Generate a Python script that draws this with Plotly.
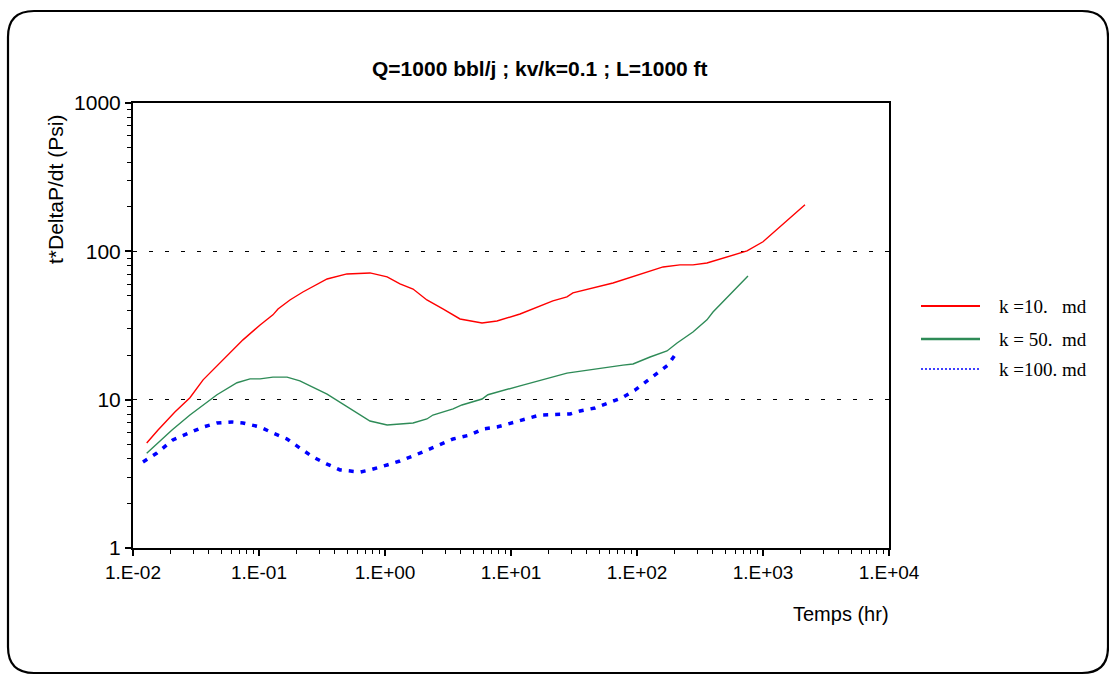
import plotly.graph_objects as go

# ---- data -------------------------------------------------------------
series_names = ["k =10.\u00a0\u00a0\u00a0md", "k = 50.\u00a0\u00a0md", "k =100. md"]

t_k10 = [0.01285, 0.0158, 0.0215, 0.0283, 0.036, 0.049, 0.0746, 0.102, 0.129, 0.1415,
         0.176, 0.223, 0.347, 0.499, 0.76, 1.04, 1.315, 1.67, 2.15, 2.88, 3.94, 5.89,
         7.74, 11.8, 21.5, 27.8, 31.0, 64.5, 161, 219, 278, 359, 578, 747, 1000, 1200, 2154]
v_k10 = [5.1, 6.25, 8.26, 10.3, 13.6, 17.7, 25.3, 31.9, 37.3, 40.9,
         47.0, 53.2, 65.1, 70.4, 71.5, 67.2, 60.3, 55.7, 47.0, 40.9, 35.0, 32.9,
         33.9, 37.8, 46.3, 49.3, 52.5, 61.2, 78.5, 81.0, 81.0, 83.5, 94.6, 100.6, 116, 133, 206]

t_k50 = [0.01285, 0.0204, 0.0283, 0.0464, 0.0669, 0.0849, 0.102, 0.129, 0.167, 0.211,
         0.347, 0.499, 0.76, 1.04, 1.67, 2.15, 2.40, 3.47, 4.08, 5.89, 6.56, 11.8,
         27.8, 77.4, 93.0, 127, 173, 208, 278, 359, 401, 760]
v_k50 = [4.35, 6.25, 7.88, 10.8, 13.0, 13.8, 13.8, 14.2, 14.2, 13.4,
         10.9, 8.93, 7.18, 6.75, 6.96, 7.41, 7.88, 8.66, 9.21, 10.1, 10.8, 12.4,
         15.1, 17.1, 17.4, 19.4, 21.3, 24.1, 28.6, 34.5, 39.0, 68.2]

t_k100 = [0.0120, 0.0155, 0.0207, 0.0283, 0.0360, 0.0464, 0.0611, 0.0746, 0.102, 0.129,
          0.167, 0.211, 0.268, 0.347, 0.440, 0.634, 0.760, 1.04, 1.315, 1.67, 2.28,
          2.74, 3.47, 4.73, 6.00, 7.74, 10.2, 12.9, 17.0, 29.4, 35.3, 46.4, 58.9, 76.0,
          96.4, 127, 152, 176, 200]
v_k100 = [3.80, 4.37, 5.35, 5.96, 6.54, 6.96, 7.07, 6.96, 6.54, 5.96,
          5.43, 4.72, 4.11, 3.68, 3.36, 3.25, 3.36, 3.63, 3.86, 4.17, 4.65,
          4.95, 5.43, 5.78, 6.35, 6.54, 6.96, 7.41, 7.88, 8.01, 8.39, 8.79, 9.50, 10.3,
          11.6, 13.8, 15.6, 17.1, 20.0]

x_tickvals = [1e-2, 1e-1, 1e0, 1e1, 1e2, 1e3, 1e4]
x_ticktext = ["1.E-02", "1.E-01", "1.E+00", "1.E+01", "1.E+02", "1.E+03", "1.E+04"]
y_tickvals = [1, 10, 100, 1000]
y_ticktext = ["1", "10", "100", "1000"]

# ---- styles -----------------------------------------------------------
colors = ["#FF0000", "#2E8B57", "#0000FF"]
widths = [1.4, 1.4, 3.5]
dashes = ["solid", "solid", "5px,7px"]
legend_dashes = ["solid", "solid", "2px,2px"]
legend_widths = [2, 2.5, 1.5]

W, H = 1109, 675
L, R, T, B = 133, 889, 103, 548   # plot-area edges in pixels


def px(x):
    return (x - L) / (R - L)


def py(y):
    return (B - y) / (B - T)


fig = go.Figure()
for t, v, name, c, w, d in zip([t_k10, t_k50, t_k100], [v_k10, v_k50, v_k100],
                               series_names, colors, widths, dashes):
    fig.add_trace(go.Scatter(x=t, y=v, mode="lines", name=name,
                             line=dict(color=c, width=w, dash=d),
                             showlegend=False))

minor_x = [m * 10 ** e for e in range(-2, 4) for m in range(2, 10)]
minor_y = [m * 10 ** e for e in range(0, 3) for m in range(2, 10)]

SANS = "Liberation Sans, Arial, sans-serif"
xtick_font = dict(family=SANS, size=19, color="black")
ytick_font = dict(family=SANS, size=21, color="black")

fig.update_layout(
    width=W, height=H,
    margin=dict(l=L, r=W - R, t=T, b=H - B, pad=0),
    paper_bgcolor="white", plot_bgcolor="white",
    showlegend=False,
    font=dict(family=SANS, size=19, color="black"),
    xaxis=dict(type="log", range=[-2, 4], tickmode="array",
               tickvals=x_tickvals, ticktext=x_ticktext,
               showline=True, linecolor="black", linewidth=2, mirror=True,
               ticks="outside", ticklen=6, tickwidth=1.5, tickcolor="black",
               showgrid=False, zeroline=False, tickfont=xtick_font,
               minor=dict(tickmode="array", tickvals=minor_x, ticks="outside",
                          ticklen=4, tickwidth=1.2, tickcolor="black", showgrid=False)),
    yaxis=dict(type="log", range=[0, 3], tickmode="array",
               tickvals=y_tickvals, ticktext=y_ticktext,
               showline=True, linecolor="black", linewidth=2, mirror=True,
               ticks="outside", ticklen=6, tickwidth=1.5, tickcolor="black",
               showgrid=True, gridcolor="black", gridwidth=1, griddash="4px,12px",
               zeroline=False, tickfont=ytick_font,
               minor=dict(tickmode="array", tickvals=minor_y, ticks="outside",
                          ticklen=4, tickwidth=1.2, tickcolor="black", showgrid=False)),
)

# title and axis titles
fig.add_annotation(text="<b>Q=1000 bbl/j ; kv/k=0.1 ; L=1000 ft</b>",
                   xref="paper", yref="paper", x=px(540), y=py(68),
                   xanchor="center", yanchor="middle", showarrow=False,
                   font=dict(family=SANS, size=21, color="black"))
fig.add_annotation(text="Temps (hr)", xref="paper", yref="paper",
                   x=px(891), y=py(614), xanchor="right", yanchor="middle",
                   showarrow=False,
                   font=dict(family=SANS, size=20, color="black"))
fig.add_annotation(text="t*DeltaP/dt (Psi)", xref="paper", yref="paper",
                   x=px(55), y=py(190), xanchor="center", yanchor="middle",
                   textangle=-90, showarrow=False,
                   font=dict(family=SANS, size=21, color="black"))

# legend drawn at the right of the plot area
legend_rows = [306, 339, 369]
for name, c, lw, ld, yrow in zip(series_names, colors, legend_widths, legend_dashes, legend_rows):
    fig.add_shape(type="line", xref="paper", yref="paper",
                  x0=px(921), x1=px(980), y0=py(yrow), y1=py(yrow),
                  line=dict(color=c, width=lw, dash=ld))
    fig.add_annotation(text=name, xref="paper", yref="paper",
                       x=px(997), y=py(yrow), xanchor="left", yanchor="middle",
                       showarrow=False,
                       font=dict(family="Liberation Serif, Times New Roman, serif",
                                 size=19, color="black"))

# rounded outer frame
fx0, fx1, fy0, fy1, rad = 8, 1108, 11, 673, 26
rx, ry = rad / (R - L), rad / (B - T)
X0, X1, Y0, Y1 = px(fx0), px(fx1), py(fy1), py(fy0)
frame = (f"M {X0 + rx},{Y1} L {X1 - rx},{Y1} Q {X1},{Y1} {X1},{Y1 - ry} "
         f"L {X1},{Y0 + ry} Q {X1},{Y0} {X1 - rx},{Y0} "
         f"L {X0 + rx},{Y0} Q {X0},{Y0} {X0},{Y0 + ry} "
         f"L {X0},{Y1 - ry} Q {X0},{Y1} {X0 + rx},{Y1} Z")
fig.add_shape(type="path", xref="paper", yref="paper", path=frame,
              line=dict(color="black", width=2.2), layer="below")

fig.write_html("out.html")
